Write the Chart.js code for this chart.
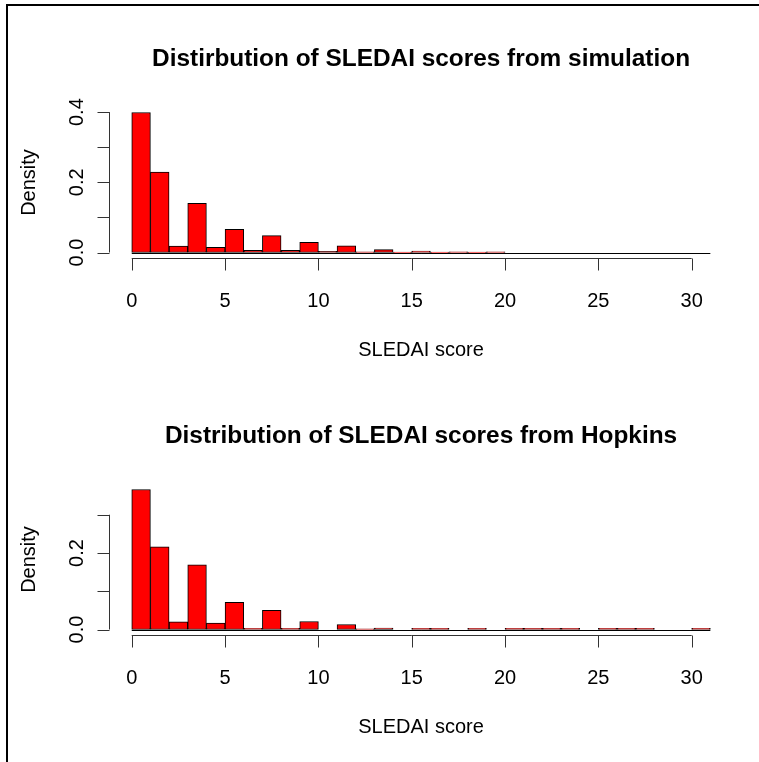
<!DOCTYPE html>
<html>
<head>
<meta charset="utf-8">
<script src="https://cdn.jsdelivr.net/npm/chart.js@4.4.1/dist/chart.umd.min.js"></script>
<style>
  html, body { margin: 0; padding: 0; background: #fff; overflow: hidden; }
  #page { position: relative; width: 759px; height: 762px; overflow: hidden; background: #fff; }
  .edge { position: absolute; background: #000; }
  #edgeTop { left: 6px; top: 4px; width: 753px; height: 2px; }
  #edgeLeft { left: 6px; top: 4px; width: 2px; height: 758px; }
  canvas { position: absolute; left: 0; }
  #simChart { top: 0; }
  #hopChart { top: 377px; }
</style>
</head>
<body>
<div id="page">
  <div class="edge" id="edgeTop"></div>
  <div class="edge" id="edgeLeft"></div>
  <canvas id="simChart" width="759" height="377"></canvas>
  <canvas id="hopChart" width="759" height="385"></canvas>
</div>
<script>
// histogram bins: left edge of each 1-point SLEDAI bin
const binStarts = [0, 1, 2, 3, 4, 5, 6, 7, 8, 9, 10, 11, 12, 13, 14, 15,
                   16, 17, 18, 19, 20, 21, 22, 23, 24, 25, 26, 27, 28, 29, 30];

// density per bin
const simDensity = [0.399, 0.229, 0.018, 0.140, 0.015, 0.066, 0.006, 0.048, 0.006, 0.029,
                    0.003, 0.019, 0.002, 0.008, 0.001, 0.004, 0.001, 0.002, 0.001, 0.002,
                    0, 0, 0, 0, 0, 0, 0, 0, 0, 0, 0];
const hopDensity = [0.366, 0.216, 0.020, 0.169, 0.017, 0.071, 0.003, 0.050, 0.003, 0.021,
                    0, 0.013, 0.002, 0.004, 0, 0.003, 0.003, 0, 0.003, 0,
                    0.003, 0.003, 0.003, 0.003, 0, 0.003, 0.003, 0.003, 0, 0, 0.003];

const xTicks = [0, 5, 10, 15, 20, 25, 30];
const simYTicks = [0, 0.1, 0.2, 0.3, 0.4];
const simYLabels = [0, 0.2, 0.4];
const hopYTicks = [0, 0.1, 0.2, 0.3];
const hopYLabels = [0, 0.2];

const FONT = '"Liberation Sans", Arial, Helvetica, sans-serif';
// plot region, relative to each canvas
const region = { left: 108.6, right: 733.5, top: 106.9, bottom: 258.1 };

// draws R-style axes, labels and title from the chart scales
const rAxes = {
  id: 'rAxes',
  afterDraw(chart, args, opts) {
    const { ctx, chartArea, scales: { x, y } } = chart;
    ctx.save();
    ctx.strokeStyle = '#000';
    ctx.fillStyle = '#000';
    ctx.lineWidth = 1;

    // bar bottoms (zero-height bins still show as a line)
    const y0 = Math.round(y.getPixelForValue(0)) + 0.5;
    ctx.beginPath();
    ctx.moveTo(x.getPixelForValue(binStarts[0]), y0);
    ctx.lineTo(x.getPixelForValue(binStarts[binStarts.length - 1] + 1), y0);
    ctx.stroke();

    ctx.strokeStyle = '#333';
    // x axis
    const ax = Math.round(chartArea.bottom) + 0.5;
    ctx.beginPath();
    ctx.moveTo(x.getPixelForValue(xTicks[0]), ax);
    ctx.lineTo(x.getPixelForValue(xTicks[xTicks.length - 1]), ax);
    xTicks.forEach(t => {
      const px = Math.round(x.getPixelForValue(t)) + 0.5;
      ctx.moveTo(px, ax);
      ctx.lineTo(px, ax + 12);
    });
    ctx.stroke();

    ctx.font = '20px ' + FONT;
    ctx.textAlign = 'center';
    ctx.textBaseline = 'alphabetic';
    xTicks.forEach(t => ctx.fillText(String(t), x.getPixelForValue(t), ax + 48.5));
    ctx.fillText('SLEDAI score', (chartArea.left + chartArea.right) / 2, ax + 97.5);

    // y axis
    const ay = Math.round(chartArea.left) + 0.5;
    ctx.beginPath();
    ctx.moveTo(ay, y.getPixelForValue(opts.yTicks[0]));
    ctx.lineTo(ay, y.getPixelForValue(opts.yTicks[opts.yTicks.length - 1]));
    opts.yTicks.forEach(t => {
      const py = Math.round(y.getPixelForValue(t)) + 0.5;
      ctx.moveTo(ay, py);
      ctx.lineTo(ay - 12, py);
    });
    ctx.stroke();

    opts.yLabels.forEach(t => {
      ctx.save();
      ctx.translate(ay - 26.5, y.getPixelForValue(t));
      ctx.rotate(-Math.PI / 2);
      ctx.fillText(t.toFixed(1), 0, 0);
      ctx.restore();
    });

    ctx.save();
    ctx.translate(ay - 75, (chartArea.top + chartArea.bottom) / 2);
    ctx.rotate(-Math.PI / 2);
    ctx.fillText('Density', 0, 0);
    ctx.restore();

    // main title
    ctx.font = 'bold 24.4px ' + FONT;
    ctx.fillText(opts.title, (chartArea.left + chartArea.right) / 2, chartArea.top - 41);
    ctx.restore();
  }
};

function makeHist(id, title, values, yTicks, yLabels) {
  const canvas = document.getElementById(id);
  const ymax = Math.max(...values);
  const xmin = binStarts[0];
  const xmax = binStarts[binStarts.length - 1] + 1;
  const xpad = (xmax - xmin) * 0.04;

  return new Chart(canvas, {
    type: 'bar',
    data: {
      datasets: [{
        data: values.map((v, i) => ({ x: binStarts[i] + 0.5, y: v })),
        backgroundColor: '#ff0000',
        borderColor: '#000000',
        borderWidth: 1,
        borderSkipped: false,
        barPercentage: 1,
        categoryPercentage: 1
      }]
    },
    options: {
      responsive: false,
      animation: false,
      devicePixelRatio: 1,
      layout: {
        padding: {
          left: region.left,
          right: canvas.width - region.right,
          top: region.top,
          bottom: canvas.height - region.bottom
        }
      },
      scales: {
        x: { type: 'linear', display: false, offset: false, min: xmin - xpad, max: xmax + xpad },
        y: { display: false, min: -0.04 * ymax, max: 1.04 * ymax }
      },
      plugins: {
        legend: { display: false },
        tooltip: { enabled: false },
        rAxes: { title: title, yTicks: yTicks, yLabels: yLabels }
      }
    },
    plugins: [rAxes]
  });
}

makeHist('simChart', 'Distirbution of SLEDAI scores from simulation', simDensity, simYTicks, simYLabels);
makeHist('hopChart', 'Distribution of SLEDAI scores from Hopkins', hopDensity, hopYTicks, hopYLabels);
</script>
</body>
</html>
